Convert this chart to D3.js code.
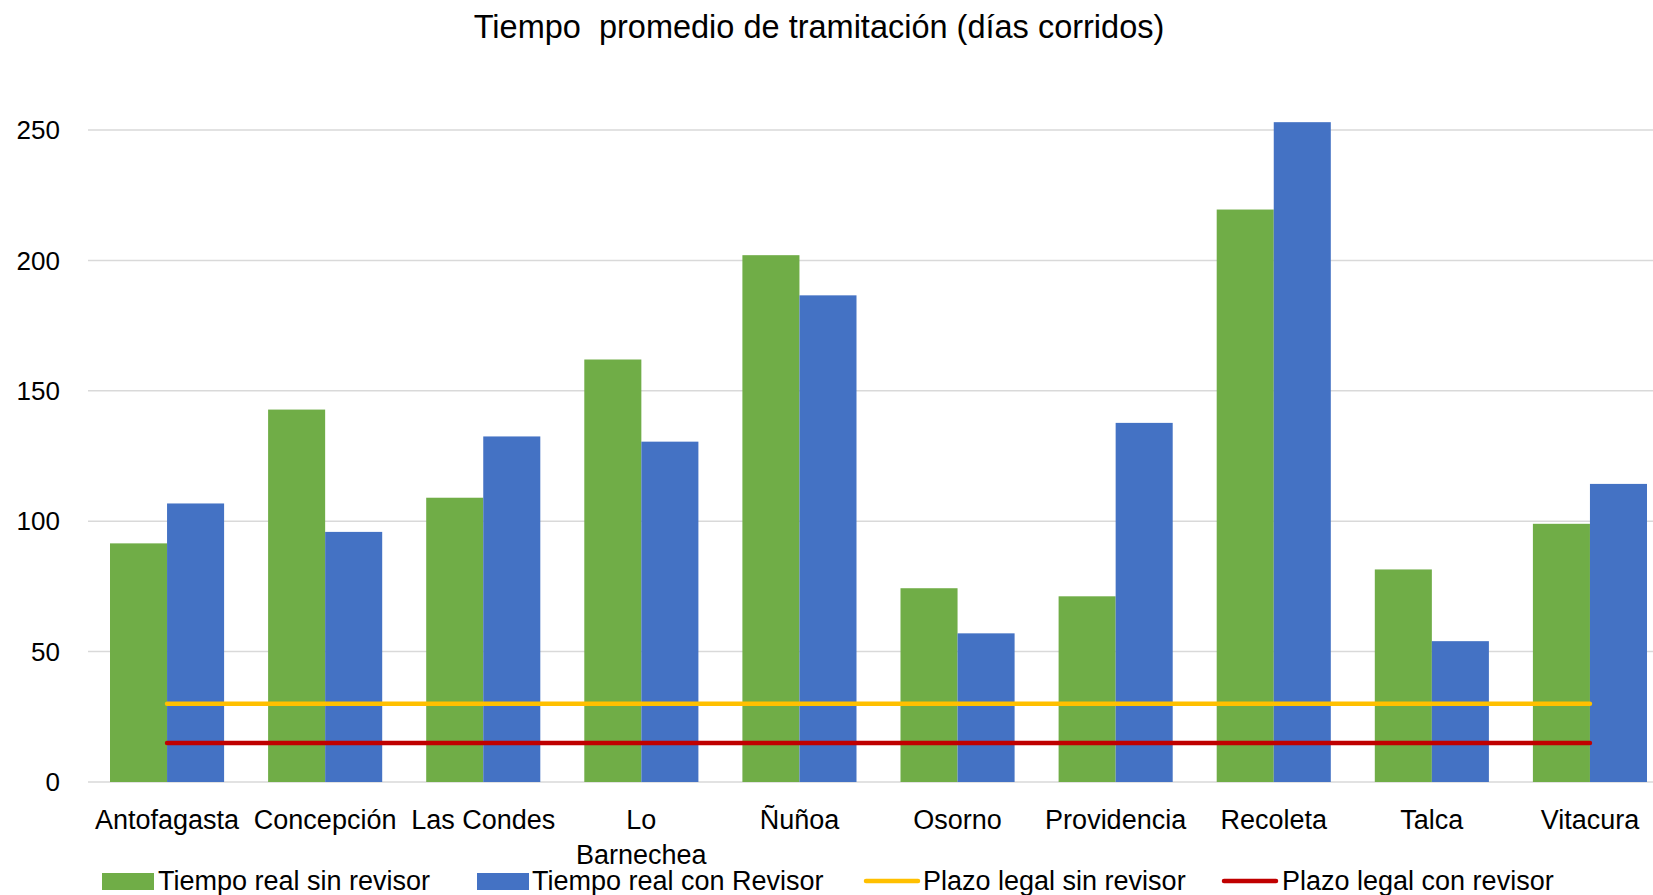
<!DOCTYPE html>
<html>
<head>
<meta charset="utf-8">
<script src="https://cdn.jsdelivr.net/npm/d3@7"></script>
<style>
  html, body { margin: 0; padding: 0; background: #fff; }
  svg { display: block; }
  text { font-family: 'Liberation Sans', Arial, sans-serif; fill: #000; }
</style>
</head>
<body>
<div id="chart"></div>
<script>
// data
const categories = ['Antofagasta', 'Concepción', 'Las Condes', 'Lo Barnechea', 'Ñuñoa',
  'Osorno', 'Providencia', 'Recoleta', 'Talca', 'Vitacura'];
const sinRevisor = [91.5, 142.8, 109, 162, 202, 74.3, 71.2, 219.5, 81.5, 99];
const conRevisor = [106.8, 95.9, 132.5, 130.5, 186.6, 57, 137.7, 253, 54, 114.3];
const plazoSin = [30, 30, 30, 30, 30, 30, 30, 30, 30, 30];
const plazoCon = [15, 15, 15, 15, 15, 15, 15, 15, 15, 15];
const yTicks = [0, 50, 100, 150, 200, 250];
const seriesNames = ['Tiempo real sin revisor', 'Tiempo real con Revisor', 'Plazo legal sin revisor', 'Plazo legal con revisor'];
const colors = ['#70AD47', '#4472C4', '#FFC000', '#C00000'];

const width = 1653;
const height = 895;
const plot = { left: 88, right: 1669, top: 130, bottom: 782 };

const svg = d3.select('#chart')
  .append('svg')
  .attr('width', width)
  .attr('height', height);

const x0 = d3.scaleBand()
  .domain(categories)
  .range([plot.left, plot.right])
  .padding(0);

// inner band for the two bar series inside each category
const inset = 22;
const x1 = d3.scaleBand()
  .domain([0, 1])
  .range([inset, x0.step() - inset]);

const y = d3.scaleLinear()
  .domain([0, 250])
  .range([plot.bottom, plot.top]);

// title
svg.append('text')
  .attr('x', 819)
  .attr('y', 27)
  .attr('dy', '0.35em')
  .attr('text-anchor', 'middle')
  .attr('font-size', '32.5px')
  .style('white-space', 'pre')
  .text('Tiempo  promedio de tramitación (días corridos)');

// gridlines
svg.append('g')
  .selectAll('line')
  .data(yTicks)
  .enter()
  .append('line')
  .attr('x1', plot.left)
  .attr('x2', plot.right)
  .attr('y1', (d) => y(d))
  .attr('y2', (d) => y(d))
  .attr('stroke', '#d9d9d9')
  .attr('stroke-width', 1.5);

// y axis labels
svg.append('g')
  .selectAll('text')
  .data(yTicks)
  .enter()
  .append('text')
  .attr('x', 60)
  .attr('y', (d) => y(d))
  .attr('dy', '0.35em')
  .attr('text-anchor', 'end')
  .attr('font-size', '26px')
  .text((d) => d);

// bars
const groups = svg.append('g')
  .selectAll('g')
  .data(categories)
  .enter()
  .append('g')
  .attr('transform', (d) => `translate(${x0(d)},0)`);

groups.selectAll('rect')
  .data((d, i) => [sinRevisor[i], conRevisor[i]])
  .enter()
  .append('rect')
  .attr('x', (d, j) => x1(j))
  .attr('width', x1.bandwidth())
  .attr('y', (d) => y(d))
  .attr('height', (d) => y(0) - y(d))
  .attr('fill', (d, j) => colors[j]);

// legal deadline lines
const line = d3.line()
  .x((d, i) => x0(categories[i]) + x0.bandwidth() / 2)
  .y((d) => y(d));

[plazoSin, plazoCon].forEach((vals, k) => {
  svg.append('path')
    .datum(vals)
    .attr('d', line)
    .attr('fill', 'none')
    .attr('stroke', colors[k + 2])
    .attr('stroke-width', 4.5)
    .attr('stroke-linecap', 'round');
});

// category labels (wrap "Lo Barnechea")
const catLabels = svg.append('g')
  .selectAll('text')
  .data(categories)
  .enter()
  .append('text')
  .attr('text-anchor', 'middle')
  .attr('font-size', '27px');

catLabels.each(function (d) {
  const t = d3.select(this);
  const cx = x0(d) + x0.bandwidth() / 2;
  const parts = d === 'Lo Barnechea' ? ['Lo', 'Barnechea'] : [d];
  parts.forEach((p, i) => {
    t.append('tspan')
      .attr('x', cx)
      .attr('y', 820 + i * 35)
      .attr('dy', '0.35em')
      .text(p);
  });
});

// legend
const legendItems = [
  { x: 102, textX: 158, type: 'rect' },
  { x: 477, textX: 532, type: 'rect' },
  { x: 866, textX: 923, type: 'line' },
  { x: 1224, textX: 1282, type: 'line' },
];
const legendY = 881;

legendItems.forEach((item, i) => {
  if (item.type === 'rect') {
    svg.append('rect')
      .attr('x', item.x)
      .attr('y', legendY - 8)
      .attr('width', 52)
      .attr('height', 17)
      .attr('fill', colors[i]);
  } else {
    svg.append('line')
      .attr('x1', item.x)
      .attr('x2', item.x + 52)
      .attr('y1', legendY)
      .attr('y2', legendY)
      .attr('stroke', colors[i])
      .attr('stroke-width', 4.5)
      .attr('stroke-linecap', 'round');
  }
  svg.append('text')
    .attr('x', item.textX)
    .attr('y', legendY)
    .attr('dy', '0.35em')
    .attr('font-size', '27px')
    .text(seriesNames[i]);
});
</script>
</body>
</html>
